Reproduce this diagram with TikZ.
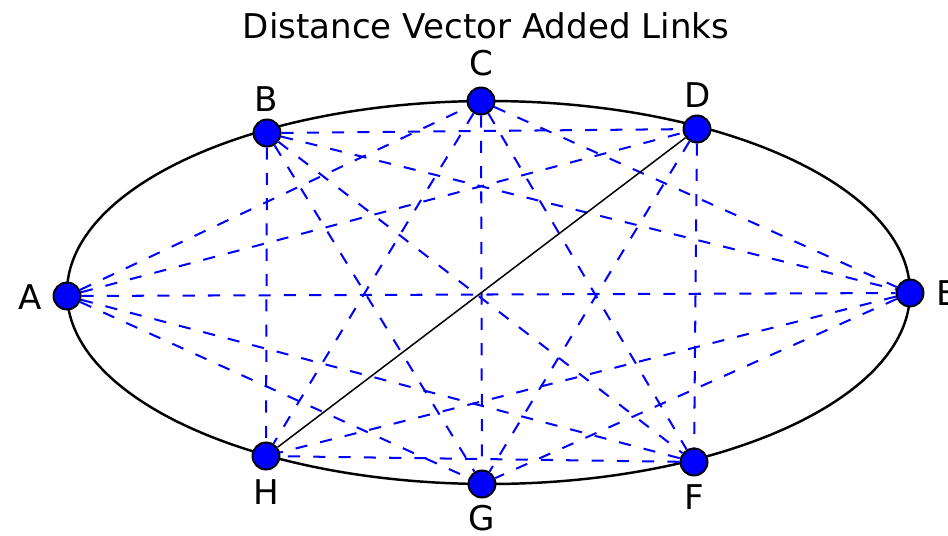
\documentclass[tikz,border=0pt]{standalone}
\usepackage{fontspec}
\setmainfont{DejaVu Sans}
\tikzset{
  vertex/.style={circle, draw=black, fill=blue, line width=1.1pt, minimum size=0.54cm, inner sep=0pt},
  tag/.style={font=\fontsize{19.4}{23}\selectfont, inner sep=0pt},
  ring/.style={black, line width=1.4pt},
  added/.style={blue, line width=1.15pt, dash pattern=on 6.9pt off 7.5pt},
  direct/.style={black, line width=0.85pt}
}
\begin{document}
\begin{tikzpicture}[x=0.02cm, y=-0.02cm]
    \useasboundingbox (0,0) rectangle (948,535);
    % Title
    \node[tag] (title) at (486,26) {Distance Vector Added Links};
    % Ring
    \draw[ring] (488.5,292.5) ellipse [x radius=421.5, y radius=191.5];
    % Routers
    \foreach \n/\x/\y in {A/67/296, B/267/133, C/481/101, D/697/129,
                          E/910/293, F/694/462, G/482/484, H/266/456}
        \node[vertex] (\n) at (\x,\y) {};
    % Router names
    \foreach \n/\x/\y in {A/30/297, B/266/99, C/481/63, D/698/95,
                          E/947/293, F/694/497, G/482/518, H/266/492}
        \node[tag] (l\n) at (\x,\y) {\n};
    % Added links
    \foreach \a/\b in {A/C, A/D, A/E, A/F, A/G, B/D, B/E, B/F, B/G, B/H,
                       C/E, C/F, C/G, C/H, D/F, D/G, E/G, E/H, F/H}
        \draw[added] (\a) -- (\b);
    \draw[direct] (H) -- (D);
\end{tikzpicture}
\end{document}
